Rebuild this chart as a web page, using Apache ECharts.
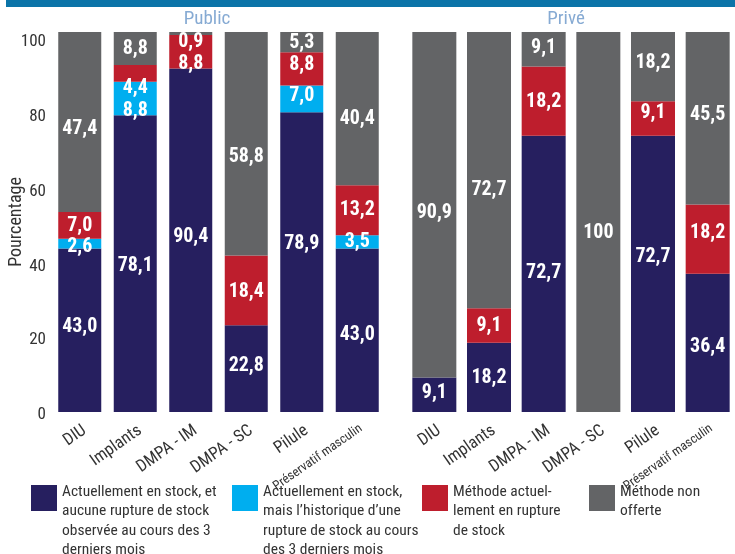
<!DOCTYPE html>
<html>
<head>
<meta charset="utf-8">
<script src="https://cdn.jsdelivr.net/npm/echarts@6/dist/echarts.min.js"></script>
<style>
html,body{margin:0;padding:0;background:#fff;}
#chart{width:735px;height:554px;}
</style>
</head>
<body>
<div id="chart"></div>
<script>
// ---- data ----
const categories = ['DIU', 'Implants', 'DMPA - IM', 'DMPA - SC', 'Pilule', 'Préservatif masculin'];
const yTicks = [0, 20, 40, 60, 80, 100];
const panelTitles = ['Public', 'Privé'];
const seriesNames = [
  'Actuellement en stock, et\naucune rupture de stock\nobservée au cours des 3\nderniers mois',
  'Actuellement en stock,\nmais l\u2019historique d\u2019une\nrupture de stock au cours\ndes 3 derniers mois',
  'Méthode actuel-\nlement en rupture\nde stock',
  'Méthode non\nofferte'
];
// Public
const publicInStock      = [43.0, 78.1, 90.4, 22.8, 78.9, 43.0];
const publicPastRupture  = [2.6, 8.8, 0, 0, 7.0, 3.5];
const publicInRupture    = [7.0, 4.4, 8.8, 18.4, 8.8, 13.2];
const publicNotOffered   = [47.4, 8.8, 0.9, 58.8, 5.3, 40.4];
// Privé
const priveInStock       = [9.1, 18.2, 72.7, 0, 72.7, 36.4];
const privePastRupture   = [0, 0, 0, 0, 0, 0];
const priveInRupture     = [0, 9.1, 18.2, 0, 9.1, 18.2];
const priveNotOffered    = [90.9, 72.7, 9.1, 100, 18.2, 45.5];

// ---- style (label vertical nudges, px) ----
const publicLabelDy = [
  [-3, 2, -3, -3, -18, 5],
  [3, 12, 0, 0, -3, 0],
  [1, 15, 12, 2, -4, 0],
  [7, 0, 8, 13, 1, 10]
];
const priveLabelDy = [
  [-2, 1, -1, 0, -17, 4],
  [0, 0, 0, 0, 0, 0],
  [0, 0, 1, 0, -5, -6],
  [8, 20, -1, 11, -4, -3]
];
const yTickLabelDy = { 0: 3, 20: 4, 40: 7, 60: 7.5, 80: 8.5, 100: 9.5 };
const colors = ['#261f5f', '#00aeef', '#be1e2d', '#636466'];
const FONT = '"Roboto Condensed", "Open Sans", Roboto, sans-serif';

function fmt(v) {
  if (v === 100) return '100';
  return v.toFixed(1).replace('.', ',');
}

function buildSeries(values, dys, gridIdx, barWidth) {
  return values.map((arr, si) => ({
    name: seriesNames[si],
    type: 'bar',
    stack: 'g' + gridIdx,
    xAxisIndex: gridIdx,
    yAxisIndex: gridIdx,
    barWidth: barWidth,
    itemStyle: { color: colors[si] },
    emphasis: { disabled: true },
    data: arr.map((v, i) => ({
      value: v,
      label: {
        show: v > 0,
        offset: [0, dys[si][i]]
      }
    })),
    label: {
      position: 'inside',
      color: '#ffffff',
      fontFamily: FONT,
      fontWeight: 'bold',
      fontSize: 20,
      formatter: p => fmt(p.value)
    }
  }));
}

const xLabel = {
  interval: 0,
  rotate: 35,
  margin: 10,
  verticalAlign: 'top',
  color: '#333333',
  fontFamily: FONT,
  fontSize: 17,
  formatter: v => v === 'Préservatif masculin' ? '{s|' + v + '}' : v,
  rich: { s: { fontSize: 13, fontFamily: FONT, color: '#333333' } }
};

const yRich = {};
yTicks.forEach(t => {
  yRich['t' + t] = { fontSize: 17, fontFamily: FONT, color: '#333333', padding: [yTickLabelDy[t] * 2, 0, 0, 0] };
});

const chart = echarts.init(document.getElementById('chart'));
const legendX = [31, 232, 422, 589];
const graphic = [
  { type: 'rect', shape: { x: 6, y: 0, width: 735, height: 7 }, style: { fill: '#0b74a8' } },
  { type: 'text', x: 207, y: 10, style: { text: panelTitles[0], fill: '#86aad3', font: '19px ' + FONT, textAlign: 'center' } },
  { type: 'text', x: 566, y: 10, style: { text: panelTitles[1], fill: '#86aad3', font: '19px ' + FONT, textAlign: 'center' } }
];
seriesNames.forEach((n, i) => {
  graphic.push({ type: 'rect', shape: { x: legendX[i], y: 485, width: 26, height: 26 }, style: { fill: colors[i] } });
  graphic.push({ type: 'text', x: legendX[i] + 31, y: 482, style: { text: n, fill: '#333333', font: '15.5px ' + FONT, lineHeight: 19.5 } });
});

chart.setOption({
  animation: false,
  grid: [
    { left: 52, width: 333, top: 32, height: 380 },
    { left: 407, width: 336, top: 32, height: 380 }
  ],
  xAxis: [0, 1].map(g => ({
    type: 'category',
    gridIndex: g,
    data: categories,
    axisLine: { show: false },
    axisTick: { show: false },
    axisLabel: xLabel
  })),
  yAxis: [
    {
      type: 'value', gridIndex: 0, min: yTicks[0], max: yTicks[yTicks.length - 1], interval: 20,
      name: 'Pourcentage', nameLocation: 'middle', nameGap: 27, nameMoveOverlap: false,
      nameTextStyle: { color: '#333333', fontFamily: FONT, fontSize: 18 },
      axisLine: { show: false }, axisTick: { show: false }, splitLine: { show: false },
      axisLabel: {
        color: '#333333', fontFamily: FONT, fontSize: 17, margin: 6,
        formatter: v => '{t' + v + '|' + v + '}',
        rich: yRich
      }
    },
    {
      type: 'value', gridIndex: 1, min: 0, max: 100, interval: 20, show: false,
      splitLine: { show: false }
    }
  ],
  graphic: graphic,
  series: [
    ...buildSeries([publicInStock, publicPastRupture, publicInRupture, publicNotOffered], publicLabelDy, 0, 43),
    ...buildSeries([priveInStock, privePastRupture, priveInRupture, priveNotOffered], priveLabelDy, 1, 44)
  ]
});
</script>
</body>
</html>
